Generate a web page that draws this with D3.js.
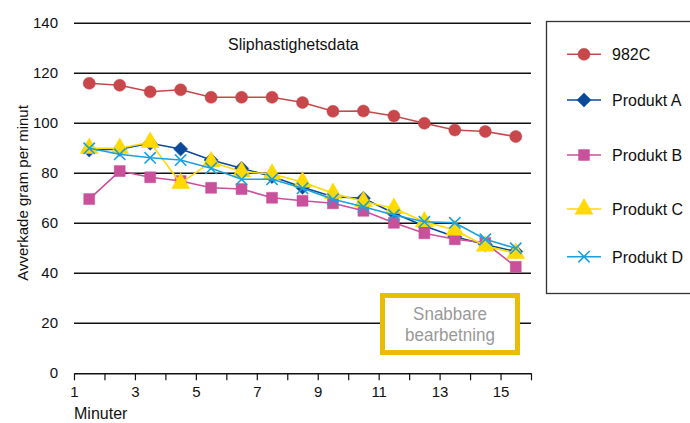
<!DOCTYPE html>
<html>
<head>
<meta charset="utf-8">
<script src="https://cdn.jsdelivr.net/npm/d3@7"></script>
<style>
  body { margin: 0; background: #fff; }
  text { font-family: "Liberation Sans", Arial, Helvetica, sans-serif; fill: #111; }
</style>
</head>
<body>
<div id="chart"></div>
<script>
// minutes for each sample point
const minutes = [1.5, 2.5, 3.5, 4.5, 5.5, 6.5, 7.5, 8.5, 9.5, 10.5, 11.5, 12.5, 13.5, 14.5, 15.5];

const v982C     = [116, 115.2, 112.6, 113.4, 110.4, 110.4, 110.4, 108.3, 104.8, 104.9, 102.9, 100, 97.3, 96.7, 94.7];
const produktA  = [89.3, 89.6, 92, 89.7, 85.3, 82, 78.7, 74.4, 70.6, 70, 64, 58.9, 54.6, 51.5, 48.7];
const produktB  = [69.7, 80.9, 78.4, 76.9, 74.2, 73.7, 70.2, 69, 68, 65, 60.2, 56, 53.6, 52.2, 42.6];
const produktC  = [90, 90, 92.4, 76, 84.6, 80.6, 79.7, 76.5, 72, 68.7, 66, 60.6, 57.3, 50.9, 48];
const produktD  = [90, 87.6, 86.2, 85.3, 82, 77.6, 77.6, 74, 69.6, 66.6, 63.3, 60.6, 60.2, 53.6, 50];

const yTicks = [0, 20, 40, 60, 80, 100, 120, 140];
const xTicks = [1, 2, 3, 4, 5, 6, 7, 8, 9, 10, 11, 12, 13, 14, 15, 16];
const xLabels = [1, 3, 5, 7, 9, 11, 13, 15];

const series = [
  { name: "982C", values: v982C, color: "#c8474a", symbol: d3.symbolCircle, size: 115, rot: 0 },
  { name: "Produkt A", values: produktA, color: "#0b4a98", symbol: d3.symbolSquare, size: 100, rot: 45 },
  { name: "Produkt B", values: produktB, color: "#c9509a", symbol: d3.symbolSquare, size: 120, rot: 0 },
  { name: "Produkt C", values: produktC, color: "#ffd900", symbol: d3.symbolTriangle, size: 140, rot: 0 },
  { name: "Produkt D", values: produktD, color: "#1aa0df", symbol: d3.symbolX, size: 85, rot: 0 }
];

const W = 690, H = 423;

const x = d3.scaleLinear().domain([1, 16]).range([74, 531]);
const y = d3.scaleLinear().domain([0, 140]).range([373.3, 23.3]);

const svg = d3.select("#chart").append("svg")
  .attr("width", W).attr("height", H);

// grid lines
svg.append("g").selectAll("line")
  .data(yTicks.filter(d => d > 0))
  .enter().append("line")
  .attr("x1", x(1)).attr("x2", x(16))
  .attr("y1", d => y(d)).attr("y2", d => y(d))
  .style("stroke", "#111").style("stroke-width", 1.5);

// y labels
svg.append("g").selectAll("text")
  .data(yTicks)
  .enter().append("text")
  .attr("x", 58).attr("y", d => y(d) + 5)
  .attr("text-anchor", "end")
  .style("font-size", "15px")
  .text(d => d);

// x axis
const xAxis = d3.axisBottom(x)
  .tickValues(xTicks)
  .tickSize(7)
  .tickSizeOuter(0)
  .tickPadding(6)
  .tickFormat(d => xLabels.includes(d) ? d : "");

const gx = svg.append("g")
  .attr("transform", "translate(0," + y(0) + ")")
  .call(xAxis);
gx.select(".domain").style("stroke", "#111").style("stroke-width", 1.5);
gx.selectAll(".tick line").style("stroke", "#111").style("stroke-width", 1.2);
gx.selectAll(".tick text")
  .style("font-size", "15px")
  .style("font-family", "Liberation Sans, Arial, sans-serif")
  .style("fill", "#111");

// axis titles
svg.append("text")
  .attr("x", 74).attr("y", 419)
  .style("font-size", "16px")
  .text("Minuter");

svg.append("text")
  .attr("transform", "translate(28,193) rotate(-90)")
  .attr("text-anchor", "middle")
  .style("font-size", "15px")
  .text("Avverkade gram per minut");

// chart title
svg.append("text")
  .attr("x", 228).attr("y", 49.5)
  .style("font-size", "16px")
  .text("Sliphastighetsdata");

// annotation box
svg.append("rect")
  .attr("x", 382.5).attr("y", 295.5)
  .attr("width", 135).attr("height", 57)
  .style("fill", "#fff")
  .style("stroke", "#ebbd00")
  .style("stroke-width", 5);

svg.append("text")
  .attr("text-anchor", "middle")
  .attr("transform", "translate(450,320) scale(0.92,1)")
  .style("font-size", "18.5px")
  .style("fill", "#999")
  .text("Snabbare");
svg.append("text")
  .attr("text-anchor", "middle")
  .attr("transform", "translate(450,341) scale(0.92,1)")
  .style("font-size", "18.5px")
  .style("fill", "#999")
  .text("bearbetning");

// lines and markers
const line = d3.line()
  .x((d, i) => x(minutes[i]))
  .y(d => y(d));

series.forEach(function (s) {
  const g = svg.append("g");
  g.append("path")
    .datum(s.values)
    .attr("d", line)
    .style("fill", "none")
    .style("stroke", s.color)
    .style("stroke-width", 1.6);

  g.selectAll("path.pt")
    .data(s.values)
    .enter().append("path")
    .attr("class", "pt")
    .attr("d", d3.symbol().type(s.symbol).size(s.size))
    .attr("transform", (d, i) => "translate(" + x(minutes[i]) + "," + y(d) + ") rotate(" + s.rot + ")")
    .style("fill", s.symbol === d3.symbolX ? "none" : s.color)
    .style("stroke", s.color)
    .style("stroke-width", s.symbol === d3.symbolX ? 1.6 : 0.5);
});

// legend
svg.append("rect")
  .attr("x", 546.5).attr("y", 21.5)
  .attr("width", 160).attr("height", 272)
  .style("fill", "none")
  .style("stroke", "#333")
  .style("stroke-width", 1.3);

const legendY = [54.3, 100, 155, 209, 256.7];

series.forEach(function (s, i) {
  const g = svg.append("g").attr("transform", "translate(0," + legendY[i] + ")");
  g.append("line")
    .attr("x1", 567).attr("x2", 601)
    .style("stroke", s.color).style("stroke-width", 1.6);
  g.append("path")
    .attr("d", d3.symbol().type(s.symbol).size(s.size))
    .attr("transform", "translate(584,0) rotate(" + s.rot + ")")
    .style("fill", s.symbol === d3.symbolX ? "none" : s.color)
    .style("stroke", s.color)
    .style("stroke-width", s.symbol === d3.symbolX ? 1.6 : 0.5);
  g.append("text")
    .attr("x", 612).attr("y", 6)
    .style("font-size", "16px")
    .text(s.name);
});
</script>
</body>
</html>
